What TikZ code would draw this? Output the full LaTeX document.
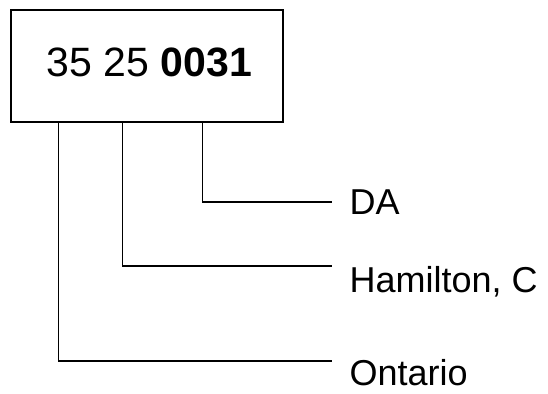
\documentclass[tikz,border=0pt]{standalone}
\usepackage{fontspec}
\setmainfont{Liberation Sans}
\begin{document}
\begin{tikzpicture}[x=1pt,y=-1pt,line width=1.2pt]
    \useasboundingbox (0,0) rectangle (548,393);
    \tikzset{codebox/.style={draw, minimum width=272pt, minimum height=112pt, inner sep=0pt,
        font=\fontsize{41}{41}\selectfont, text height=29pt, text depth=8pt},
      fieldlabel/.style={anchor=base west, inner sep=0pt, font=\fontsize{36}{36}\selectfont}}

    \node[codebox] (code) at (147,66) {\hspace{5pt}35 25 \textbf{0031}};

    \coordinate (daend) at (332,202);
    \coordinate (cityend) at (332,266);
    \coordinate (provend) at (332,361);

    \node[fieldlabel] (da) at (349,214) {DA};
    \node[fieldlabel] (city) at (349,292) {Hamilton, C};
    \node[fieldlabel] (prov) at (349,385) {Ontario};

    \draw ([xshift=192pt]code.south west) |- (daend);
    \draw ([xshift=112pt]code.south west) |- (cityend);
    \draw ([xshift=48pt]code.south west) |- (provend);

\end{tikzpicture}
\end{document}
